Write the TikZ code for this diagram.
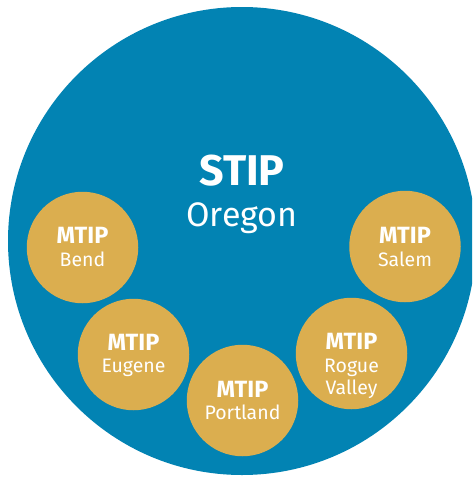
\documentclass[tikz,border=0pt]{standalone}
\usepackage{fontspec}
\setmainfont{Fira Sans}
\definecolor{stipblue}{HTML}{0283B3}
\definecolor{mtipgold}{HTML}{DBAE4F}
\begin{document}
\begin{tikzpicture}[x=1pt,y=-1pt,
  mtip/.style={circle,fill=mtipgold,minimum size=111.5pt,inner sep=0pt},
  head/.style={anchor=base,text=white,font=\bfseries\fontsize{23.5}{26}\selectfont,inner sep=0pt},
  city/.style={anchor=base,text=white,font=\fontsize{19.5}{22}\selectfont,inner sep=0pt}]
\useasboundingbox (0,0) rectangle (472,477);
\clip (0,0) rectangle (472,477);
\fill[white] (0,0) rectangle (472,477);
\node[circle,fill=stipblue,minimum size=468pt,inner sep=0pt] (stip) at (242,241) {};
\node[anchor=base,text=white,font=\bfseries\fontsize{43}{46}\selectfont,inner sep=0pt] (stipt) at (242,185) {STIP};
\node[anchor=base,text=white,font=\fontsize{34}{36}\selectfont,inner sep=0pt] (oregon) at (242,226) {Oregon};
\node[mtip] (bend) at (82.5,247.5) {};
\node[mtip] (eugene) at (133.5,354.5) {};
\node[mtip] (portland) at (242.5,400.5) {};
\node[mtip] (rogue) at (351.5,353.5) {};
\node[mtip] (salem) at (405,246.5) {};
\node[head] (bendh) at (82.5,243) {MTIP};
\node[city] (bendc) at (82.5,266) {Bend};
\node[head] (eugeneh) at (133.5,350) {MTIP};
\node[city] (eugenec) at (133.5,372) {Eugene};
\node[head] (portlandh) at (242.5,397) {MTIP};
\node[city] (portlandc) at (242.5,419) {Portland};
\node[head] (rogueh) at (351.5,349) {MTIP};
\node[city] (roguec) at (351.5,372) {Rogue};
\node[city] (roguev) at (351.5,394) {Valley};
\node[head] (salemh) at (405,243) {MTIP};
\node[city] (salemc) at (405,266) {Salem};
\end{tikzpicture}
\end{document}
